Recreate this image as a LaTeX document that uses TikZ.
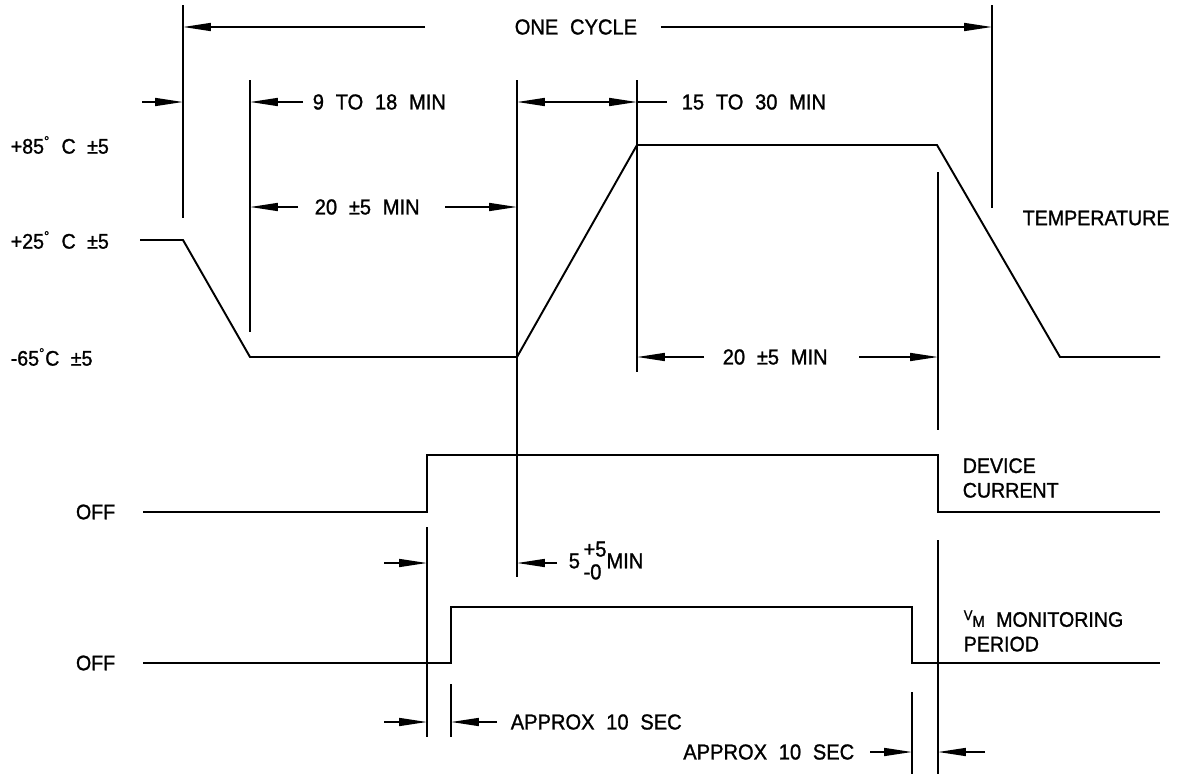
\documentclass[tikz,border=0pt]{standalone}
\usepackage{fontspec}
\setmainfont{Liberation Sans}[WordSpace=2.1,FakeStretch=0.93,FakeBold=1.2]
\usetikzlibrary{arrows.meta,positioning}

\begin{document}
\begin{tikzpicture}[x=0.02cm,y=-0.02cm,>={Triangle[length=5.6mm,width=1.6mm]},
    line width=0.9pt, font=\fontsize{12.3}{14}\selectfont,
    wave/.style={line width=1.1pt},
    dimtext/.style={inner sep=0pt, anchor=west},
    sidetext/.style={inner sep=0pt, anchor=west, align=left, font=\fontsize{12}{14}\selectfont}]
  \useasboundingbox (0,0) rectangle (1178,774);

  % temperature trace
  \coordinate (t0) at (140,240);
  \coordinate (t1) at (183,240);
  \coordinate (t2) at (250,357);
  \coordinate (t3) at (517,357);
  \coordinate (t4) at (637,145);
  \coordinate (t5) at (937,145);
  \coordinate (t6) at (1060,357);
  \coordinate (t7) at (1160,357);
  \draw[wave] (t0) -- (t1) -- (t2) -- (t3) -- (t4) -- (t5) -- (t6) -- (t7);

  % device current trace
  \coordinate (c0) at (143,512);
  \coordinate (c1) at (427,512);
  \coordinate (c2) at (427,455);
  \coordinate (c3) at (938,455);
  \coordinate (c4) at (938,512);
  \coordinate (c5) at (1160,512);
  \draw[wave] (c0) -- (c1) -- (c2) -- (c3) -- (c4) -- (c5);

  % monitoring trace
  \coordinate (m0) at (143,663);
  \coordinate (m1) at (451,663);
  \coordinate (m2) at (451,607);
  \coordinate (m3) at (912,607);
  \coordinate (m4) at (912,663);
  \coordinate (m5) at (1160,663);
  \draw[wave] (m0) -- (m1) -- (m2) -- (m3) -- (m4) -- (m5);

  % extension lines
  \draw (183,5) coordinate (e1a) -- (183,218) coordinate (e1b);
  \draw (992,5) coordinate (e2a) -- (992,208) coordinate (e2b);
  \draw (250,80) coordinate (e3a) -- (250,332) coordinate (e3b);
  \draw (517,80) coordinate (e4a) -- (517,577) coordinate (e4b);
  \draw (637,80) coordinate (e5a) -- (637,372) coordinate (e5b);
  \draw (938,172) coordinate (e6a) -- (938,430) coordinate (e6b);
  \draw (427,527) coordinate (e7a) -- (427,737) coordinate (e7b);
  \draw (451,684) coordinate (e8a) -- (451,737) coordinate (e8b);
  \draw (912,692) coordinate (e9a) -- (912,774) coordinate (e9b);
  \draw (938,540) coordinate (e10a) -- (938,774) coordinate (e10b);

  % level labels
  \node[sidetext] (hot)  at (10,145) {+85\textsuperscript{°} C ±5};
  \node[sidetext] (room) at (10,240) {+25\textsuperscript{°} C ±5};
  \node[sidetext] (cold) at (10,357) {-65\textsuperscript{°}C ±5};
  \node[sidetext, anchor=east] (off1) at (116,512) {OFF};
  \node[sidetext, anchor=east] (off2) at (116,663) {OFF};
  \node[sidetext] (temp) at (1022,218) {TEMPERATURE};
  \node[sidetext] (curr) at (962,478) {DEVICE\\CURRENT};
  \node[sidetext] (mon)  at (963,631) {{\fontsize{8}{9}\selectfont\raisebox{0.9ex}{V}}{\fontsize{9}{10}\selectfont M}\ MONITORING\\PERIOD};

  % one cycle
  \node[dimtext] (cyc) at (514,27) {ONE CYCLE};
  \draw[->] ([shift={(-89,0)}]cyc.west) -- (e1a |- cyc.west);
  \draw[->] ([shift={(23,0)}]cyc.east) -- (e2a |- cyc.east);

  % 9 to 18 / 15 to 30
  \coordinate (r1) at (183,102);
  \draw[->] ([shift={(-41,0)}]r1) -- (r1);
  \node[dimtext] (nine) at (312,102) {9 TO 18 MIN};
  \draw[->] ([shift={(-9,0)}]nine.west) -- (e3a |- nine.west);
  \draw[<->] (e4a |- nine.west) -- (e5a |- nine.west);
  \node[dimtext] (fift) at (681,102) {15 TO 30 MIN};
  \draw (e5a |- fift.west) -- ([shift={(-14,0)}]fift.west);

  % 20 +-5 (cold soak)
  \node[dimtext] (soakc) at (314,207) {20 ±5 MIN};
  \draw[->] ([shift={(-16,0)}]soakc.west) -- (e3a |- soakc.west);
  \draw[->] ([shift={(25,0)}]soakc.east) -- (e4a |- soakc.east);

  % 20 +-5 (hot soak)
  \node[dimtext] (soakh) at (722,357) {20 ±5 MIN};
  \draw[->] ([shift={(-18,0)}]soakh.west) -- (e5a |- soakh.west);
  \draw[->] ([shift={(31,0)}]soakh.east) -- (e6a |- soakh.east);

  % 5 +5 -0
  \coordinate (r5) at (427,563);
  \draw[->] ([shift={(-43,0)}]r5) -- (r5);
  \node[dimtext] (delay) at (568,563) {5\,\begin{tabular}[c]{@{}l@{}}+5\\[-1pt]-0\end{tabular}MIN};
  \draw[->] ([shift={(-11,0)}]delay.west) -- (e4a |- delay.west);

  % approx 10 sec (on)
  \coordinate (r6) at (427,722);
  \draw[->] ([shift={(-43,0)}]r6) -- (r6);
  \node[dimtext] (apon) at (510,722) {APPROX 10 SEC};
  \draw[->] ([shift={(-13,0)}]apon.west) -- (e8a |- apon.west);

  % approx 10 sec (off)
  \node[dimtext, anchor=east] (apoff) at (855,752) {APPROX 10 SEC};
  \draw[->] ([shift={(15,0)}]apoff.east) -- (e9a |- apoff.east);
  \coordinate (r7) at (938,752);
  \draw[->] ([shift={(47,0)}]r7) -- (r7);
\end{tikzpicture}
\end{document}
